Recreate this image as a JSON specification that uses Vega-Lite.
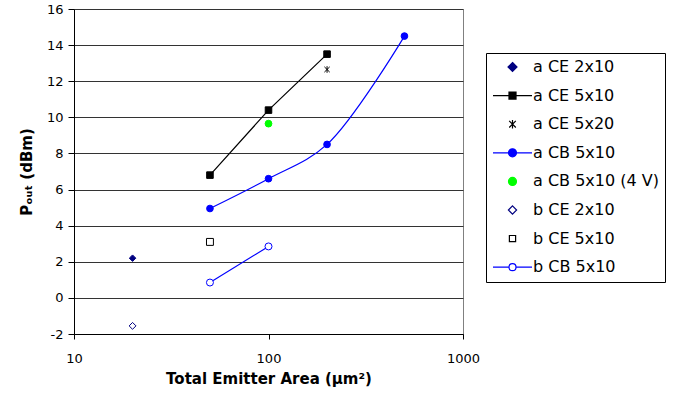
{
  "$schema": "https://vega.github.io/schema/vega-lite/v6.json",
  "width": 389,
  "height": 325,
  "autosize": {"type": "none"},
  "padding": {"left": 74, "top": 9, "right": 223, "bottom": 64},
  "background": "white",
  "config": {
    "view": {"stroke": "#808080", "strokeWidth": 1},
    "font": "DejaVu Sans",
    "axis": {
      "labelFont": "DejaVu Sans",
      "labelFontSize": 13,
      "labelColor": "black",
      "titleFont": "DejaVu Sans",
      "titleFontSize": 15,
      "titleFontWeight": "bold",
      "titleColor": "black",
      "domainColor": "black",
      "tickColor": "black",
      "gridColor": "#333333",
      "gridWidth": 1
    }
  },
  "data": {
    "values": [
      {"series": "a CE 2x10", "area": 20, "pout": 2.2},
      {"series": "a CE 5x10", "area": 50, "pout": 6.8},
      {"series": "a CE 5x10", "area": 100, "pout": 10.4},
      {"series": "a CE 5x10", "area": 200, "pout": 13.5},
      {"series": "a CE 5x20", "area": 200, "pout": 12.65},
      {"series": "a CB 5x10", "area": 50, "pout": 4.95},
      {"series": "a CB 5x10", "area": 100, "pout": 6.6},
      {"series": "a CB 5x10", "area": 200, "pout": 8.5},
      {"series": "a CB 5x10", "area": 500, "pout": 14.5},
      {"series": "a CB 5x10 (4 V)", "area": 100, "pout": 9.65},
      {"series": "b CE 2x10", "area": 20, "pout": -1.55},
      {"series": "b CE 5x10", "area": 50, "pout": 3.1},
      {"series": "b CB 5x10", "area": 50, "pout": 0.85},
      {"series": "b CB 5x10", "area": 100, "pout": 2.85}
    ]
  },
  "encoding": {
    "x": {
      "field": "area",
      "type": "quantitative",
      "scale": {"type": "log", "domain": [10, 1000], "nice": false},
      "axis": {
        "title": "Total Emitter Area (μm²)",
        "values": [10, 100, 1000],
        "format": "d",
        "grid": false,
        "labelFlush": false,
        "tickSize": 5,
        "labelPadding": 13,
        "titlePadding": 6
      }
    },
    "y": {
      "field": "pout",
      "type": "quantitative",
      "scale": {"domain": [-2, 16], "nice": false, "zero": false},
      "axis": {
        "title": "Pₒᵤₜ (dBm)",
        "values": [-2, 0, 2, 4, 6, 8, 10, 12, 14, 16],
        "labelExpr": "'' + datum.value",
        "grid": true,
        "tickSize": 6,
        "labelPadding": 5,
        "titlePadding": 12
      }
    }
  },
  "layer": [
    {
      "transform": [{"filter": {"field": "series", "oneOf": ["a CE 5x10", "b CB 5x10"]}}],
      "mark": {"type": "line", "interpolate": "linear", "strokeWidth": 1.2},
      "encoding": {
        "color": {
          "field": "series",
          "type": "nominal",
          "scale": {
            "domain": ["a CE 2x10", "a CE 5x10", "a CE 5x20", "a CB 5x10", "a CB 5x10 (4 V)", "b CE 2x10", "b CE 5x10", "b CB 5x10"],
            "range": ["#000080", "#000000", "#000000", "#0000ff", "#00ff00", "#000080", "#000000", "#0000ff"]
          },
          "legend": {
            "title": null,
            "orient": "none",
            "legendX": 412,
            "legendY": 44,
            "padding": 6,
            "strokeColor": "black",
            "fillColor": "white",
            "labelFont": "DejaVu Sans",
            "labelFontSize": 16,
            "labelColor": "black",
            "labelOffset": 0,
            "symbolSize": 1521,
            "clipHeight": 16,
            "rowPadding": 12.6,
            "encode": {
              "symbols": {
                "update": {
                  "shape": {"signal": "['M0,-0.23L0.23,0L0,0.23L-0.23,0Z','M-1,0H-0.18M0.18,0H1M-0.18,-0.18H0.18V0.18H-0.18Z','M-0.17,-0.17L0.17,0.17M-0.17,0.17L0.17,-0.17M0,-0.22V0.22','M-1,0H-0.2M0.2,0H1M0.205,0A0.205,0.205,0,1,1,-0.205,0A0.205,0.205,0,1,1,0.205,0Z','M0.205,0A0.205,0.205,0,1,1,-0.205,0A0.205,0.205,0,1,1,0.205,0Z','M0,-0.21L0.21,0L0,0.21L-0.21,0Z','M-0.16,-0.16H0.16V0.16H-0.16Z','M-1,0H-0.18M0.18,0H1M0.18,0A0.18,0.18,0,1,1,-0.18,0A0.18,0.18,0,1,1,0.18,0Z'][indexof(['a CE 2x10','a CE 5x10','a CE 5x20','a CB 5x10','a CB 5x10 (4 V)','b CE 2x10','b CE 5x10','b CB 5x10'], datum.value)]"},
                  "fill": {"signal": "['#000080','#000000','transparent','#0000ff','#00ff00','white','white','white'][indexof(['a CE 2x10','a CE 5x10','a CE 5x20','a CB 5x10','a CB 5x10 (4 V)','b CE 2x10','b CE 5x10','b CB 5x10'], datum.value)]"},
                  "stroke": {"signal": "['#000080','#000000','#000000','#0000ff','#00ff00','#000080','#000000','#0000ff'][indexof(['a CE 2x10','a CE 5x10','a CE 5x20','a CB 5x10','a CB 5x10 (4 V)','b CE 2x10','b CE 5x10','b CB 5x10'], datum.value)]"},
                  "strokeWidth": {"value": 1.2},
                  "opacity": {"value": 1}
                }
              }
            }
          }
        },
        "detail": {"field": "series", "type": "nominal"}
      }
    },
    {
      "transform": [{"filter": {"field": "series", "equal": "a CB 5x10"}}],
      "mark": {"type": "line", "interpolate": "catmull-rom", "strokeWidth": 1.2},
      "encoding": {
        "color": {
          "field": "series",
          "type": "nominal",
          "scale": {
            "domain": ["a CE 2x10", "a CE 5x10", "a CE 5x20", "a CB 5x10", "a CB 5x10 (4 V)", "b CE 2x10", "b CE 5x10", "b CB 5x10"],
            "range": ["#000080", "#000000", "#000000", "#0000ff", "#00ff00", "#000080", "#000000", "#0000ff"]
          }
        }
      }
    },
    {
      "mark": {"type": "point", "filled": true, "opacity": 1, "strokeWidth": 1},
      "encoding": {
        "shape": {
          "field": "series",
          "type": "nominal",
          "legend": null,
          "scale": {
            "domain": ["b CB 5x10", "b CE 5x10", "b CE 2x10", "a CB 5x10 (4 V)", "a CB 5x10", "a CE 5x20", "a CE 5x10", "a CE 2x10"],
            "range": ["circle", "square", "diamond", "circle", "circle", "M-0.8,-0.8L0.8,0.8M-0.8,0.8L0.8,-0.8M0,-1V1", "square", "diamond"]
          }
        },
        "size": {
          "field": "series",
          "type": "nominal",
          "legend": null,
          "scale": {
            "domain": ["b CB 5x10", "b CE 5x10", "b CE 2x10", "a CB 5x10 (4 V)", "a CB 5x10", "a CE 5x20", "a CE 5x10", "a CE 2x10"],
            "range": [49, 42, 56, 56, 56, 110, 49, 70]
          }
        },
        "fill": {
          "field": "series",
          "type": "nominal",
          "legend": null,
          "scale": {
            "domain": ["b CB 5x10", "b CE 5x10", "b CE 2x10", "a CB 5x10 (4 V)", "a CB 5x10", "a CE 5x20", "a CE 5x10", "a CE 2x10"],
            "range": ["white", "white", "white", "#00ff00", "#0000ff", "transparent", "#000000", "#000080"]
          }
        },
        "stroke": {
          "field": "series",
          "type": "nominal",
          "legend": null,
          "scale": {
            "domain": ["b CB 5x10", "b CE 5x10", "b CE 2x10", "a CB 5x10 (4 V)", "a CB 5x10", "a CE 5x20", "a CE 5x10", "a CE 2x10"],
            "range": ["#0000ff", "#000000", "#000080", "#00ff00", "#0000ff", "#000000", "#000000", "#000080"]
          }
        }
      }
    }
  ]
}
